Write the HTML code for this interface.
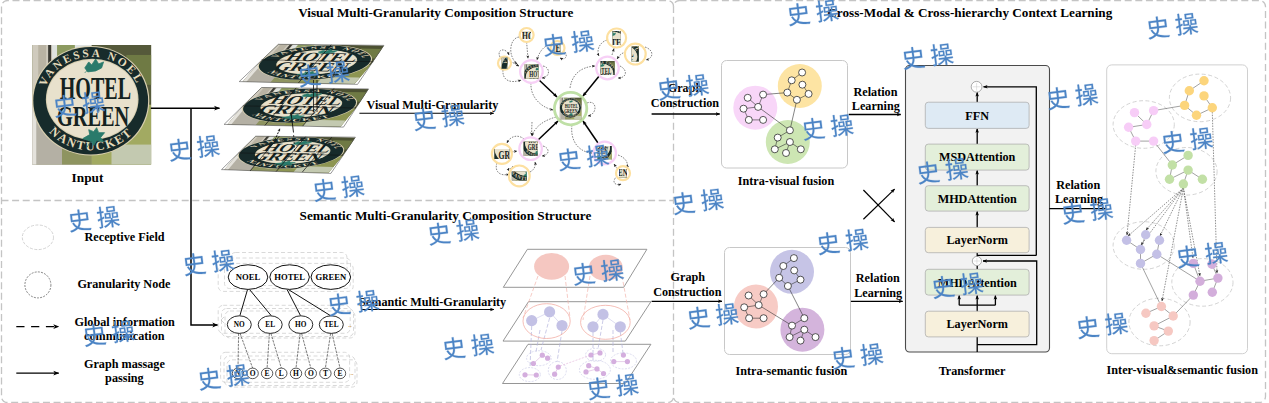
<!DOCTYPE html>
<html><head><meta charset="utf-8"><title>diagram</title>
<style>html,body{margin:0;padding:0;background:#fff;width:1269px;height:403px;overflow:hidden}svg{display:block}</style>
</head><body>
<svg width="1269" height="403" viewBox="0 0 1269 403">
<defs><g id="wm"><path d="M-304 -230H-37V-43H-304ZM40 -230H308V-43H40ZM-263 63 -330 88C-291 174 -241 239 -180 290C-242 331 -330 366 -457 393C-441 410 -421 443 -412 460C-277 428 -182 385 -115 335C18 415 197 444 429 458C434 432 449 399 464 381C238 372 69 350 -57 283C11 208 32 121 38 29H384V-302H40V-456H-37V-302H-377V29H-39C-44 106 -61 179 -122 241C-179 197 -226 139 -263 63Z"/><path transform="translate(1245,0)" d="M27 -362H258V-257H27ZM-39 -419V-200H327V-419ZM-80 -100H52V14H-80ZM230 -100H366V14H230ZM-341 -460V-258H-454V-188H-341V31C-387 47 -429 61 -463 72L-444 144L-341 105V372C-341 384 -344 387 -355 387C-364 387 -394 388 -428 387C-418 406 -409 437 -406 454C-355 454 -322 452 -300 441C-278 429 -270 410 -270 372V78L-171 40L-183 -27L-270 5V-188H-177V-258H-270V-460ZM106 70V146H-158V209H59C-10 283 -119 347 -223 379C-208 393 -186 420 -176 438C-74 401 33 332 106 250V461H177V245C240 321 333 392 418 429C430 411 451 385 467 371C379 340 283 277 222 209H451V146H177V70H429V-155H170V70H113V-155H-139V70Z"/></g>
<marker id="ah" viewBox="0 0 10 10" refX="9" refY="5" markerWidth="6" markerHeight="6" markerUnits="userSpaceOnUse" orient="auto"><path d="M0,1 L10,5 L0,9 L2.5,5 Z" fill="#000"/></marker>
<marker id="ahs" viewBox="0 0 10 10" refX="9" refY="5" markerWidth="4.5" markerHeight="4.5" markerUnits="userSpaceOnUse" orient="auto"><path d="M0,1 L10,5 L0,9 L2.5,5 Z" fill="#000"/></marker>
<marker id="aht" viewBox="0 0 10 10" refX="9" refY="5" markerWidth="3.5" markerHeight="3.5" markerUnits="userSpaceOnUse" orient="auto"><path d="M0,1 L10,5 L0,9 L2.5,5 Z" fill="#222"/></marker>
<g id="sign">
<rect x="0" y="0" width="120" height="120" fill="#6a6e42"/>
<rect x="0" y="0" width="60" height="60" fill="#cfcabd"/>
<rect x="6" y="0" width="8" height="120" fill="#b9b3a3"/>
<rect x="16" y="0" width="3" height="60" fill="#3b3a33"/>
<rect x="20" y="0" width="40" height="30" fill="#dfe3e0"/>
<rect x="25" y="0" width="18" height="12" fill="#8c9a60"/>
<rect x="60" y="0" width="60" height="60" fill="#55593a"/>
<rect x="95" y="10" width="25" height="30" fill="#6f7a44"/>
<rect x="0" y="60" width="60" height="60" fill="#b4b0a4"/>
<rect x="0" y="60" width="4" height="60" fill="#e4e2dc"/>
<rect x="30" y="95" width="30" height="25" fill="#8e9460"/>
<rect x="60" y="60" width="60" height="60" fill="#a2aa62"/>
<rect x="80" y="100" width="40" height="20" fill="#c3c9b0"/>
<ellipse cx="59" cy="56" rx="59.2" ry="55" fill="#d9cfb0"/>
<ellipse cx="59" cy="56" rx="58" ry="54" fill="#172b2b"/>
<ellipse cx="60.5" cy="54.5" rx="46.8" ry="40.8" fill="#d8cfb0"/>
<ellipse cx="60.5" cy="54.5" rx="45.8" ry="39.8" fill="#e8e1cc"/>
<path id="arcTopsign" d="M13.1,42.8 A49,43.5 0 0 1 106.9,42.8" fill="none"/>
<path id="arcBotsign" d="M16.3,86.6 A55.5,50.5 0 0 0 103.7,86.6" fill="none"/>
<text font-family="'Liberation Serif',serif" font-weight="bold" font-size="11.5" fill="#e6dcbc" textLength="114" lengthAdjust="spacing"><textPath href="#arcTopsign" startOffset="1">VANESSA NOEL</textPath></text>
<text font-family="'Liberation Serif',serif" font-weight="bold" font-size="12.5" fill="#e6dcbc"><textPath href="#arcBotsign" startOffset="1" textLength="93" lengthAdjust="spacing">NANTUCKET</textPath></text>
<text x="27.7" y="54.5" textLength="72" lengthAdjust="spacingAndGlyphs" font-family="'Liberation Serif',serif" font-weight="bold" font-size="32" fill="#142220">HOTEL</text>
<text x="24.9" y="81.5" textLength="73" lengthAdjust="spacingAndGlyphs" font-family="'Liberation Serif',serif" font-weight="bold" font-size="30" fill="#142220">GREEN</text>
<path d="M53,23 l4,-6 l3,3 l4,-6 l3,5 l5,-2 l-2,6 l-6,3 l-8,1z M57,24 l-4,4" fill="#2a7a6b" stroke="#2a7a6b" stroke-width="0.8"/>
<path d="M51,94 l7,-4 l-1,-5 l5,2 l3,-4 l2,5 l6,0 l-4,5 l3,4 l-7,-1 l-3,5 l-2,-4z M59,97 l-4,6" fill="#2a7a6b" stroke="#2a7a6b" stroke-width="0.8"/>
</g>
<g id="signq">
<rect x="0" y="0" width="120" height="120" fill="#6a6e42"/>
<rect x="0" y="0" width="60" height="60" fill="#cfcabd"/>
<rect x="6" y="0" width="8" height="120" fill="#b9b3a3"/>
<rect x="16" y="0" width="3" height="60" fill="#3b3a33"/>
<rect x="20" y="0" width="40" height="30" fill="#dfe3e0"/>
<rect x="25" y="0" width="18" height="12" fill="#8c9a60"/>
<rect x="60" y="0" width="60" height="60" fill="#4c5132"/>
<rect x="95" y="10" width="25" height="30" fill="#6f7a44"/>
<rect x="0" y="60" width="60" height="60" fill="#b4b0a4"/>
<rect x="0" y="60" width="4" height="60" fill="#e4e2dc"/>
<rect x="30" y="95" width="30" height="25" fill="#8e9460"/>
<rect x="60" y="60" width="60" height="60" fill="#8d9552"/>
<rect x="80" y="100" width="40" height="20" fill="#c3c9b0"/>
<ellipse cx="59" cy="56" rx="59.2" ry="55" fill="#d9cfb0"/>
<ellipse cx="59" cy="56" rx="58" ry="54" fill="#172b2b"/>
<ellipse cx="60.5" cy="54.5" rx="42" ry="38.5" fill="#d8cfb0"/>
<ellipse cx="60.5" cy="54.5" rx="41" ry="37.5" fill="#e8e1cc"/>
<path id="arcTopsignq" d="M13.1,42.8 A49,43.5 0 0 1 106.9,42.8" fill="none"/>
<path id="arcBotsignq" d="M16.3,86.6 A55.5,50.5 0 0 0 103.7,86.6" fill="none"/>
<text font-family="'Liberation Serif',serif" font-weight="bold" font-size="11.5" fill="#e6dcbc" textLength="114" lengthAdjust="spacing"><textPath href="#arcTopsignq" startOffset="1">VANESSA NOEL</textPath></text>
<text font-family="'Liberation Serif',serif" font-weight="bold" font-size="12.5" fill="#e6dcbc"><textPath href="#arcBotsignq" startOffset="1" textLength="93" lengthAdjust="spacing">NANTUCKET</textPath></text>
<text x="25" y="52" textLength="75" lengthAdjust="spacingAndGlyphs" font-family="'Liberation Serif',serif" font-weight="bold" font-size="40" fill="#142220">HOTEL</text>
<text x="21" y="82.5" textLength="77" lengthAdjust="spacingAndGlyphs" font-family="'Liberation Serif',serif" font-weight="bold" font-size="40" fill="#142220">GREEN</text>
<path d="M53,23 l4,-6 l3,3 l4,-6 l3,5 l5,-2 l-2,6 l-6,3 l-8,1z M57,24 l-4,4" fill="#2a7a6b" stroke="#2a7a6b" stroke-width="0.8"/>
<path d="M51,94 l7,-4 l-1,-5 l5,2 l3,-4 l2,5 l6,0 l-4,5 l3,4 l-7,-1 l-3,5 l-2,-4z M59,97 l-4,6" fill="#2a7a6b" stroke="#2a7a6b" stroke-width="0.8"/>
</g></defs>
<rect width="1269" height="403" fill="#fff"/>
<path d="M673.5,6.5 A6,6 0 0 0 667.5,0.5 H7.5 A6,6 0 0 0 1.5,6.5 V396.5 A6,6 0 0 0 7.5,402.5 H667.5 A6,6 0 0 0 673.5,396.5" fill="none" stroke="#c4c4c4" stroke-width="1.3" stroke-dasharray="7 3.6"/>
<path d="M1.5,200.5 H673.5" fill="none" stroke="#c4c4c4" stroke-width="1.3" stroke-dasharray="7 3.6"/>
<rect x="673.5" y="0.5" width="592" height="402" rx="6" fill="none" stroke="#c4c4c4" stroke-width="1.3" stroke-dasharray="7 3.6"/>
<text x="298.2" y="17.3" font-size="13.19" text-anchor="start" style="font-family:'Liberation Serif',serif;font-weight:bold" >Visual Multi-Granularity Composition Structure</text>
<text x="299.6" y="220.4" font-size="13.19" text-anchor="start" style="font-family:'Liberation Serif',serif;font-weight:bold" >Semantic Multi-Granularity Composition Structure</text>
<text x="1112.3" y="16.6" font-size="13.19" text-anchor="end" style="font-family:'Liberation Serif',serif;font-weight:bold" >Cross-Modal &amp; Cross-hierarchy Context Learning</text>
<g transform="translate(32.3,45) scale(0.99,0.9958)"><use href="#sign"/></g>
<text x="87.5" y="182.0" font-size="13.30" text-anchor="middle" style="font-family:'Liberation Serif',serif;font-weight:bold" >Input</text>
<line x1="150.8" y1="108.2" x2="219.5" y2="108.2" stroke="#000" stroke-width="1.4" marker-end="url(#ah)"/>
<polyline points="191,108.2 191,325 217.7,325" fill="none" stroke="#000" stroke-width="1.5" marker-end="url(#ah)"/>
<clipPath id="qc1"><polygon points="278.4,44.3 383.9,45.4 357.5,84.4 239.2,81.6"/></clipPath>
<g clip-path="url(#qc1)"><g transform="matrix(0.9325,0.0163,-0.2733,0.3179,275.20,43.87)"><use href="#signq"/></g></g>
<polygon points="278.4,44.3 383.9,45.4 357.5,84.4 239.2,81.6" fill="none" stroke="#555" stroke-width="0.6"/>
<clipPath id="qc2"><polygon points="261.6,87.5 368.5,88.9 343.5,127.1 224.1,124.4"/></clipPath>
<g clip-path="url(#qc2)"><g transform="matrix(0.9429,0.0171,-0.2604,0.3129,258.48,87.17)"><use href="#signq"/></g></g>
<polygon points="261.6,87.5 368.5,88.9 343.5,127.1 224.1,124.4" fill="none" stroke="#555" stroke-width="0.6"/>
<clipPath id="qc3"><polygon points="255.7,136.2 355.4,137.2 330.9,173.4 221.5,169.6"/></clipPath>
<g clip-path="url(#qc3)"><g transform="matrix(0.8712,0.0200,-0.2446,0.2900,253.28,135.50)"><use href="#signq"/></g></g>
<polygon points="255.7,136.2 355.4,137.2 330.9,173.4 221.5,169.6" fill="none" stroke="#555" stroke-width="0.6"/>
<line x1="331.1" y1="44.8" x2="298.4" y2="83.0" stroke="#111" stroke-width="0.7"/>
<line x1="261.5" y1="59.8" x2="373.4" y2="61.7" stroke="#111" stroke-width="0.5"/>
<line x1="296.2" y1="87.9" x2="264.9" y2="125.4" stroke="#111" stroke-width="0.7"/>
<line x1="333.9" y1="88.5" x2="302.7" y2="126.1" stroke="#111" stroke-width="0.7"/>
<line x1="242.9" y1="105.9" x2="356.0" y2="108.0" stroke="#111" stroke-width="0.5"/>
<line x1="279.4" y1="136.1" x2="250.1" y2="170.9" stroke="#111" stroke-width="0.7"/>
<line x1="305.6" y1="136.7" x2="276.2" y2="171.5" stroke="#111" stroke-width="0.7"/>
<line x1="331.7" y1="137.3" x2="302.3" y2="172.1" stroke="#111" stroke-width="0.7"/>
<line x1="238.6" y1="152.9" x2="343.2" y2="155.3" stroke="#111" stroke-width="0.5"/>
<line x1="313.5" y1="80" x2="313.5" y2="112" stroke="#111" stroke-width="0.8"/>
<line x1="317" y1="80" x2="317" y2="112" stroke="#111" stroke-width="0.8"/>
<line x1="293.5" y1="132.5" x2="291" y2="112.5" stroke="#111" stroke-width="0.9" marker-end="url(#aht)"/>
<line x1="294.7" y1="151" x2="293.6" y2="134.5" stroke="#111" stroke-width="0.8" stroke-dasharray="2 1.5"/>
<line x1="274.9" y1="140" x2="280" y2="128.5" stroke="#111" stroke-width="1" stroke-dasharray="2 1.2" marker-end="url(#aht)"/>
<text x="366.6" y="109.2" font-size="12.18" text-anchor="start" style="font-family:'Liberation Serif',serif;font-weight:bold" >Visual Multi-Granularity</text>
<line x1="359.4" y1="113.3" x2="493.7" y2="113.3" stroke="#000" stroke-width="1.1" marker-end="url(#ahs)"/>
<path d="M519,37 C510,38 507,55 517,64" fill="none" stroke="#333" stroke-width="0.6" stroke-dasharray="1.6 1.2" marker-end="url(#aht)"/>
<path d="M526.6,42 L528,58.5" fill="none" stroke="#333" stroke-width="0.6" stroke-dasharray="1.6 1.2" marker-end="url(#aht)"/>
<path d="M500,57 C496,49 506,47 509,55" fill="none" stroke="#333" stroke-width="0.6" stroke-dasharray="1.6 1.2" marker-end="url(#aht)"/>
<path d="M510,62 C513,62 515,64 519,66" fill="none" stroke="#333" stroke-width="0.6" stroke-dasharray="1.6 1.2" marker-end="url(#aht)"/>
<path d="M503,70 C502,80 510,84 521,80" fill="none" stroke="#333" stroke-width="0.6" stroke-dasharray="1.6 1.2" marker-end="url(#aht)"/>
<path d="M543,66 C550,67 551,77 542,78" fill="none" stroke="#333" stroke-width="0.6" stroke-dasharray="1.6 1.2" marker-end="url(#aht)"/>
<path d="M551,45 C544,45 539,52 537,60" fill="none" stroke="#333" stroke-width="0.6" stroke-dasharray="1.6 1.2" marker-end="url(#aht)"/>
<path d="M563,50 C569,55 566,61 560,58" fill="none" stroke="#333" stroke-width="0.6" stroke-dasharray="1.6 1.2" marker-end="url(#aht)"/>
<path d="M531,83 C530,96 540,107 553,110" fill="none" stroke="#333" stroke-width="0.6" stroke-dasharray="1.6 1.2" marker-end="url(#aht)"/>
<path d="M607,40 C600,42 596,50 599,56" fill="none" stroke="#333" stroke-width="0.6" stroke-dasharray="1.6 1.2" marker-end="url(#aht)"/>
<path d="M612,55 L614,48.5" fill="none" stroke="#333" stroke-width="0.6" stroke-dasharray="1.6 1.2" marker-end="url(#aht)"/>
<path d="M626,52 C621,53 619,56 617,59" fill="none" stroke="#333" stroke-width="0.6" stroke-dasharray="1.6 1.2" marker-end="url(#aht)"/>
<path d="M645,47 C654,50 654,58 646,60" fill="none" stroke="#333" stroke-width="0.6" stroke-dasharray="1.6 1.2" marker-end="url(#aht)"/>
<path d="M620,66 C628,70 627,78 618,78" fill="none" stroke="#333" stroke-width="0.6" stroke-dasharray="1.6 1.2" marker-end="url(#aht)"/>
<path d="M570,88 C572,75 580,67 595,66" fill="none" stroke="#333" stroke-width="0.6" stroke-dasharray="1.6 1.2" marker-end="url(#aht)"/>
<path d="M587,103 C597,99 598,114 588,116" fill="none" stroke="#333" stroke-width="0.6" stroke-dasharray="1.6 1.2" marker-end="url(#aht)"/>
<path d="M556,117 C545,120 535,126 532,136" fill="none" stroke="#333" stroke-width="0.6" stroke-dasharray="1.6 1.2" marker-end="url(#aht)"/>
<path d="M532,122 L531.5,135.5" fill="none" stroke="#333" stroke-width="0.6" stroke-dasharray="1.6 1.2" marker-end="url(#aht)"/>
<path d="M524,139 C518,134 510,136 507,143" fill="none" stroke="#333" stroke-width="0.6" stroke-dasharray="1.6 1.2" marker-end="url(#aht)"/>
<path d="M512,152 L517,151" fill="none" stroke="#333" stroke-width="0.6" stroke-dasharray="1.6 1.2" marker-end="url(#aht)"/>
<path d="M543,146 C550,148 550,155 542,156" fill="none" stroke="#333" stroke-width="0.6" stroke-dasharray="1.6 1.2" marker-end="url(#aht)"/>
<path d="M497,163 C494,171 500,177 509,174" fill="none" stroke="#333" stroke-width="0.6" stroke-dasharray="1.6 1.2" marker-end="url(#aht)"/>
<path d="M530,172 C534,170 536,166 535,162" fill="none" stroke="#333" stroke-width="0.6" stroke-dasharray="1.6 1.2" marker-end="url(#aht)"/>
<path d="M513,166 C510,170 508,170 509,168" fill="none" stroke="#333" stroke-width="0.6" stroke-dasharray="1.6 1.2" marker-end="url(#aht)"/>
<path d="M572,125 C570,140 578,152 592,153" fill="none" stroke="#333" stroke-width="0.6" stroke-dasharray="1.6 1.2" marker-end="url(#aht)"/>
<path d="M618,155 C627,158 629,165 626,167" fill="none" stroke="#333" stroke-width="0.6" stroke-dasharray="1.6 1.2" marker-end="url(#aht)"/>
<path d="M618,170 L614,164" fill="none" stroke="#333" stroke-width="0.6" stroke-dasharray="1.6 1.2" marker-end="url(#aht)"/>
<path d="M617,176 C611,182 615,186 621,184" fill="none" stroke="#333" stroke-width="0.6" stroke-dasharray="1.6 1.2" marker-end="url(#aht)"/>
<line x1="538" y1="79" x2="557" y2="97" stroke="#000" stroke-width="1.5" marker-end="url(#ahs)"/>
<line x1="600" y1="75" x2="583" y2="96" stroke="#000" stroke-width="1.5" marker-end="url(#ahs)"/>
<line x1="537" y1="141" x2="558" y2="121" stroke="#000" stroke-width="1.5" marker-end="url(#ahs)"/>
<line x1="598" y1="143" x2="583" y2="121" stroke="#000" stroke-width="1.5" marker-end="url(#ahs)"/>
<circle cx="570.6" cy="108.6" r="16.2" fill="#fff" stroke="#bfe0a6" stroke-width="2.8"/>
<clipPath id="th1"><rect x="559.6" y="97.6" width="22.0" height="22.0"/></clipPath>
<g clip-path="url(#th1)"><g transform="translate(559.60,97.60) scale(0.1833,0.1833)"><use href="#sign"/></g></g>
<circle cx="531.4" cy="71.5" r="11.3" fill="#fff" stroke="#f7d0f6" stroke-width="2.2"/>
<clipPath id="th2"><rect x="524.4" y="64.5" width="14.0" height="14.0"/></clipPath>
<g clip-path="url(#th2)"><g transform="translate(522.40,63.50) scale(0.2500,0.2500)"><use href="#sign"/></g></g>
<circle cx="607.5" cy="68.0" r="11.3" fill="#fff" stroke="#f7d0f6" stroke-width="2.2"/>
<clipPath id="th3"><rect x="600.5" y="61.0" width="14.0" height="14.0"/></clipPath>
<g clip-path="url(#th3)"><g transform="translate(586.50,60.00) scale(0.2500,0.2500)"><use href="#sign"/></g></g>
<circle cx="530.6" cy="148.7" r="11.3" fill="#fff" stroke="#f7d0f6" stroke-width="2.2"/>
<clipPath id="th4"><rect x="523.6" y="141.7" width="14.0" height="14.0"/></clipPath>
<g clip-path="url(#th4)"><g transform="translate(521.60,129.70) scale(0.2500,0.2500)"><use href="#sign"/></g></g>
<circle cx="604.7" cy="152.9" r="11.3" fill="#fff" stroke="#f7d0f6" stroke-width="2.2"/>
<clipPath id="th5"><rect x="597.7" y="145.9" width="14.0" height="14.0"/></clipPath>
<g clip-path="url(#th5)"><g transform="translate(583.20,133.90) scale(0.2500,0.2500)"><use href="#sign"/></g></g>
<circle cx="557.5" cy="48.0" r="7.0" fill="#fff" stroke="#fde0a0" stroke-width="2.2"/>
<clipPath id="th6"><rect x="554.5" y="43.0" width="6.0" height="10.0"/></clipPath>
<g clip-path="url(#th6)"><g transform="translate(528.25,31.46) scale(0.3750,0.3846)"><use href="#sign"/></g></g>
<circle cx="526.6" cy="35.0" r="7.0" fill="#fff" stroke="#fde0a0" stroke-width="2.2"/>
<clipPath id="th7"><rect x="522.1" y="31.0" width="9.0" height="8.0"/></clipPath>
<g clip-path="url(#th7)"><g transform="translate(511.60,20.09) scale(0.3750,0.3636)"><use href="#sign"/></g></g>
<circle cx="504.5" cy="63.2" r="6.5" fill="#fff" stroke="#fde0a0" stroke-width="2.2"/>
<clipPath id="th8"><rect x="501.5" y="57.7" width="6.0" height="11.0"/></clipPath>
<g clip-path="url(#th8)"><g transform="translate(500.64,47.88) scale(0.4286,0.3929)"><use href="#sign"/></g></g>
<circle cx="616.6" cy="38.0" r="9.5" fill="#fff" stroke="#fde0a0" stroke-width="2.2"/>
<clipPath id="th9"><rect x="612.6" y="31.0" width="8.0" height="14.0"/></clipPath>
<g clip-path="url(#th9)"><g transform="translate(587.00,26.80) scale(0.4000,0.3500)"><use href="#sign"/></g></g>
<circle cx="635.3" cy="54.1" r="10.4" fill="#fff" stroke="#fde0a0" stroke-width="2.2"/>
<clipPath id="th10"><rect x="631.8" y="46.6" width="7.0" height="15.0"/></clipPath>
<g clip-path="url(#th10)"><g transform="translate(583.80,37.31) scale(0.5000,0.3571)"><use href="#sign"/></g></g>
<circle cx="501.9" cy="153.9" r="10.0" fill="#fff" stroke="#fde0a0" stroke-width="2.2"/>
<clipPath id="th11"><rect x="494.4" y="148.9" width="15.0" height="10.0"/></clipPath>
<g clip-path="url(#th11)"><g transform="translate(489.15,124.73) scale(0.3750,0.4167)"><use href="#sign"/></g></g>
<circle cx="519.3" cy="175.9" r="10.4" fill="#fff" stroke="#fde0a0" stroke-width="2.2"/>
<clipPath id="th12"><rect x="511.8" y="171.4" width="15.0" height="9.0"/></clipPath>
<g clip-path="url(#th12)"><g transform="translate(504.30,137.04) scale(0.3750,0.4091)"><use href="#sign"/></g></g>
<circle cx="623.0" cy="173.2" r="7.0" fill="#fff" stroke="#fde0a0" stroke-width="2.2"/>
<clipPath id="th13"><rect x="619.0" y="169.2" width="8.0" height="8.0"/></clipPath>
<g clip-path="url(#th13)"><g transform="translate(595.00,149.20) scale(0.3333,0.3333)"><use href="#sign"/></g></g>
<text x="685.0" y="92.4" font-size="12.18" text-anchor="middle" style="font-family:'Liberation Serif',serif;font-weight:bold" >Graph</text>
<text x="685.0" y="107.3" font-size="12.18" text-anchor="middle" style="font-family:'Liberation Serif',serif;font-weight:bold" >Construction</text>
<line x1="651.6" y1="114" x2="719.7" y2="114" stroke="#000" stroke-width="1.3" marker-end="url(#ahs)"/>
<rect x="721.5" y="60.5" width="126" height="107.5" rx="5" fill="#fff" stroke="#c8c8c8" stroke-width="1"/>
<circle cx="755.3" cy="107.7" r="22.0" fill="#f8d6f8"/>
<circle cx="799.8" cy="86.0" r="22.0" fill="#fde4a3"/>
<circle cx="787.8" cy="142.0" r="22.0" fill="#cde6b3"/>
<line x1="747.7" y1="97.8" x2="758.1" y2="106.9" stroke="#333" stroke-width="0.6"/>
<line x1="763.1" y1="94.6" x2="758.1" y2="106.9" stroke="#333" stroke-width="0.6"/>
<line x1="758.1" y1="106.9" x2="743.5" y2="108.7" stroke="#333" stroke-width="0.6"/>
<line x1="743.5" y1="108.7" x2="748.8" y2="119.9" stroke="#333" stroke-width="0.6"/>
<line x1="748.8" y1="119.9" x2="763.1" y2="119.9" stroke="#333" stroke-width="0.6"/>
<line x1="802.1" y1="72.5" x2="791.7" y2="80.3" stroke="#333" stroke-width="0.6"/>
<line x1="791.7" y1="80.3" x2="787.3" y2="92.6" stroke="#333" stroke-width="0.6"/>
<line x1="802.4" y1="84.7" x2="808.6" y2="93.9" stroke="#333" stroke-width="0.6"/>
<line x1="808.6" y1="93.9" x2="796.9" y2="99.8" stroke="#333" stroke-width="0.6"/>
<line x1="787.3" y1="92.6" x2="796.9" y2="99.8" stroke="#333" stroke-width="0.6"/>
<line x1="789.9" y1="130.3" x2="777.7" y2="137.6" stroke="#333" stroke-width="0.6"/>
<line x1="777.7" y1="137.6" x2="774.8" y2="149.3" stroke="#333" stroke-width="0.6"/>
<line x1="789.9" y1="142.0" x2="774.8" y2="149.3" stroke="#333" stroke-width="0.6"/>
<line x1="789.9" y1="142.0" x2="786.0" y2="153.0" stroke="#333" stroke-width="0.6"/>
<line x1="789.9" y1="142.0" x2="800.8" y2="149.3" stroke="#333" stroke-width="0.6"/>
<line x1="763.1" y1="94.6" x2="787.3" y2="92.6" stroke="#333" stroke-width="0.6"/>
<line x1="758.1" y1="106.9" x2="789.9" y2="130.3" stroke="#333" stroke-width="0.6"/>
<line x1="796.9" y1="99.8" x2="789.9" y2="130.3" stroke="#333" stroke-width="0.6"/>
<circle cx="747.7" cy="97.8" r="3.5" fill="#fff" stroke="#222" stroke-width="0.75"/>
<circle cx="763.1" cy="94.6" r="3.5" fill="#fff" stroke="#222" stroke-width="0.75"/>
<circle cx="758.1" cy="106.9" r="3.5" fill="#fff" stroke="#222" stroke-width="0.75"/>
<circle cx="743.5" cy="108.7" r="3.5" fill="#fff" stroke="#222" stroke-width="0.75"/>
<circle cx="748.8" cy="119.9" r="3.5" fill="#fff" stroke="#222" stroke-width="0.75"/>
<circle cx="763.1" cy="119.9" r="3.5" fill="#fff" stroke="#222" stroke-width="0.75"/>
<circle cx="802.1" cy="72.5" r="3.5" fill="#fff" stroke="#222" stroke-width="0.75"/>
<circle cx="791.7" cy="80.3" r="3.5" fill="#fff" stroke="#222" stroke-width="0.75"/>
<circle cx="802.4" cy="84.7" r="3.5" fill="#fff" stroke="#222" stroke-width="0.75"/>
<circle cx="787.3" cy="92.6" r="3.5" fill="#fff" stroke="#222" stroke-width="0.75"/>
<circle cx="808.6" cy="93.9" r="3.5" fill="#fff" stroke="#222" stroke-width="0.75"/>
<circle cx="796.9" cy="99.8" r="3.5" fill="#fff" stroke="#222" stroke-width="0.75"/>
<circle cx="789.9" cy="130.3" r="3.5" fill="#fff" stroke="#222" stroke-width="0.75"/>
<circle cx="777.7" cy="137.6" r="3.5" fill="#fff" stroke="#222" stroke-width="0.75"/>
<circle cx="789.9" cy="142.0" r="3.5" fill="#fff" stroke="#222" stroke-width="0.75"/>
<circle cx="774.8" cy="149.3" r="3.5" fill="#fff" stroke="#222" stroke-width="0.75"/>
<circle cx="786.0" cy="153.0" r="3.5" fill="#fff" stroke="#222" stroke-width="0.75"/>
<circle cx="800.8" cy="149.3" r="3.5" fill="#fff" stroke="#222" stroke-width="0.75"/>
<text x="786.0" y="185.3" font-size="12.18" text-anchor="middle" style="font-family:'Liberation Serif',serif;font-weight:bold" >Intra-visual fusion</text>
<text x="875.5" y="95.5" font-size="12.18" text-anchor="middle" style="font-family:'Liberation Serif',serif;font-weight:bold" >Relation</text>
<text x="875.8" y="109.7" font-size="12.18" text-anchor="middle" style="font-family:'Liberation Serif',serif;font-weight:bold" >Learning</text>
<line x1="848.7" y1="114.5" x2="900.8" y2="114.5" stroke="#000" stroke-width="1.3" marker-end="url(#ahs)"/>
<line x1="863.4" y1="219.2" x2="894.6" y2="189.1" stroke="#000" stroke-width="1.2" marker-end="url(#ahs)"/>
<line x1="863.4" y1="190" x2="894.6" y2="221.9" stroke="#000" stroke-width="1.2" marker-end="url(#ahs)"/>
<text x="687.8" y="281.3" font-size="12.18" text-anchor="middle" style="font-family:'Liberation Serif',serif;font-weight:bold" >Graph</text>
<text x="687.3" y="296.0" font-size="12.18" text-anchor="middle" style="font-family:'Liberation Serif',serif;font-weight:bold" >Construction</text>
<line x1="651.6" y1="301.3" x2="722" y2="301.3" stroke="#000" stroke-width="1.3" marker-end="url(#ahs)"/>
<rect x="724.5" y="247.5" width="126" height="107" rx="5" fill="#fff" stroke="#c8c8c8" stroke-width="1"/>
<circle cx="792.0" cy="271.8" r="22.0" fill="#c6c4e6"/>
<circle cx="756.0" cy="306.5" r="22.0" fill="#f7cbc5"/>
<circle cx="802.4" cy="329.7" r="22.0" fill="#d4b4dc"/>
<line x1="748.6" y1="295.5" x2="758.7" y2="305.1" stroke="#333" stroke-width="0.6"/>
<line x1="763.6" y1="294.2" x2="758.7" y2="305.1" stroke="#333" stroke-width="0.6"/>
<line x1="758.7" y1="305.1" x2="744.2" y2="307.3" stroke="#333" stroke-width="0.6"/>
<line x1="744.2" y1="307.3" x2="749.1" y2="318.2" stroke="#333" stroke-width="0.6"/>
<line x1="749.1" y1="318.2" x2="763.6" y2="318.2" stroke="#333" stroke-width="0.6"/>
<line x1="783.3" y1="266.0" x2="779.2" y2="277.8" stroke="#333" stroke-width="0.6"/>
<line x1="779.2" y1="277.8" x2="787.9" y2="286.0" stroke="#333" stroke-width="0.6"/>
<line x1="794.2" y1="270.4" x2="800.5" y2="279.7" stroke="#333" stroke-width="0.6"/>
<line x1="800.5" y1="279.7" x2="787.9" y2="286.0" stroke="#333" stroke-width="0.6"/>
<line x1="793.9" y1="258.1" x2="783.3" y2="266.0" stroke="#333" stroke-width="0.6"/>
<line x1="804.3" y1="318.2" x2="792.0" y2="325.6" stroke="#333" stroke-width="0.6"/>
<line x1="792.0" y1="325.6" x2="789.6" y2="337.1" stroke="#333" stroke-width="0.6"/>
<line x1="804.3" y1="329.7" x2="789.6" y2="337.1" stroke="#333" stroke-width="0.6"/>
<line x1="804.3" y1="329.7" x2="800.5" y2="340.6" stroke="#333" stroke-width="0.6"/>
<line x1="804.3" y1="329.7" x2="815.5" y2="337.1" stroke="#333" stroke-width="0.6"/>
<line x1="763.6" y1="294.2" x2="779.2" y2="277.8" stroke="#333" stroke-width="0.6"/>
<line x1="758.7" y1="305.1" x2="792.0" y2="325.6" stroke="#333" stroke-width="0.6"/>
<line x1="787.9" y1="286.0" x2="804.3" y2="318.2" stroke="#333" stroke-width="0.6"/>
<circle cx="793.9" cy="258.1" r="3.5" fill="#fff" stroke="#222" stroke-width="0.75"/>
<circle cx="783.3" cy="266.0" r="3.5" fill="#fff" stroke="#222" stroke-width="0.75"/>
<circle cx="794.2" cy="270.4" r="3.5" fill="#fff" stroke="#222" stroke-width="0.75"/>
<circle cx="779.2" cy="277.8" r="3.5" fill="#fff" stroke="#222" stroke-width="0.75"/>
<circle cx="800.5" cy="279.7" r="3.5" fill="#fff" stroke="#222" stroke-width="0.75"/>
<circle cx="787.9" cy="286.0" r="3.5" fill="#fff" stroke="#222" stroke-width="0.75"/>
<circle cx="748.6" cy="295.5" r="3.5" fill="#fff" stroke="#222" stroke-width="0.75"/>
<circle cx="763.6" cy="294.2" r="3.5" fill="#fff" stroke="#222" stroke-width="0.75"/>
<circle cx="758.7" cy="305.1" r="3.5" fill="#fff" stroke="#222" stroke-width="0.75"/>
<circle cx="744.2" cy="307.3" r="3.5" fill="#fff" stroke="#222" stroke-width="0.75"/>
<circle cx="749.1" cy="318.2" r="3.5" fill="#fff" stroke="#222" stroke-width="0.75"/>
<circle cx="763.6" cy="318.2" r="3.5" fill="#fff" stroke="#222" stroke-width="0.75"/>
<circle cx="804.3" cy="318.2" r="3.5" fill="#fff" stroke="#222" stroke-width="0.75"/>
<circle cx="792.0" cy="325.6" r="3.5" fill="#fff" stroke="#222" stroke-width="0.75"/>
<circle cx="804.3" cy="329.7" r="3.5" fill="#fff" stroke="#222" stroke-width="0.75"/>
<circle cx="789.6" cy="337.1" r="3.5" fill="#fff" stroke="#222" stroke-width="0.75"/>
<circle cx="800.5" cy="340.6" r="3.5" fill="#fff" stroke="#222" stroke-width="0.75"/>
<circle cx="815.5" cy="337.1" r="3.5" fill="#fff" stroke="#222" stroke-width="0.75"/>
<text x="791.4" y="374.8" font-size="12.18" text-anchor="middle" style="font-family:'Liberation Serif',serif;font-weight:bold" >Intra-semantic fusion</text>
<text x="877.8" y="282.1" font-size="12.18" text-anchor="middle" style="font-family:'Liberation Serif',serif;font-weight:bold" >Relation</text>
<text x="878.2" y="296.6" font-size="12.18" text-anchor="middle" style="font-family:'Liberation Serif',serif;font-weight:bold" >Learning</text>
<line x1="850.9" y1="301.3" x2="902.7" y2="301.3" stroke="#000" stroke-width="1.3" marker-end="url(#ahs)"/>
<rect x="905.5" y="65.5" width="144" height="286.5" rx="4" fill="#f2f2f2" stroke="#4a4a4a" stroke-width="1.1"/>
<polyline points="1036.3,255.4 1036.3,86.8 983.5,86.8" stroke="#000" stroke-width="1.3" fill="none" marker-end="url(#ahs)"/>
<line x1="977.2" y1="255.4" x2="1036.3" y2="255.4" stroke="#000" stroke-width="1.3" fill="none"/>
<polyline points="977.2,344.7 1036.7,344.7 1036.7,261 983,261" stroke="#000" stroke-width="1.3" fill="none" marker-end="url(#ahs)"/>
<line x1="977.2" y1="352" x2="977.2" y2="311.5" stroke="#000" stroke-width="1.3" fill="none" marker-end="url(#ahs)"/>
<line x1="977.2" y1="311" x2="977.2" y2="305.2" stroke="#000" stroke-width="1.3" fill="none"/>
<line x1="959.2" y1="305.2" x2="995.4" y2="305.2" stroke="#000" stroke-width="1.3" fill="none"/>
<line x1="959.2" y1="305.2" x2="959.2" y2="295.5" stroke="#000" stroke-width="1.3" fill="none" marker-end="url(#ahs)"/>
<line x1="977.2" y1="305.2" x2="977.2" y2="295.5" stroke="#000" stroke-width="1.3" fill="none" marker-end="url(#ahs)"/>
<line x1="995.4" y1="305.2" x2="995.4" y2="295.5" stroke="#000" stroke-width="1.3" fill="none" marker-end="url(#ahs)"/>
<line x1="977.2" y1="266" x2="977.2" y2="269" stroke="#000" stroke-width="1.3" fill="none"/>
<line x1="977.2" y1="252.7" x2="977.2" y2="256.5" stroke="#000" stroke-width="1.3" fill="none"/>
<line x1="977.2" y1="227.4" x2="977.2" y2="211.5" stroke="#000" stroke-width="1.3" fill="none" marker-end="url(#ahs)"/>
<line x1="977.2" y1="185.7" x2="977.2" y2="170.5" stroke="#000" stroke-width="1.3" fill="none" marker-end="url(#ahs)"/>
<line x1="977.2" y1="144.1" x2="977.2" y2="128.8" stroke="#000" stroke-width="1.3" fill="none" marker-end="url(#ahs)"/>
<line x1="977.2" y1="102.2" x2="977.2" y2="92.5" stroke="#000" stroke-width="1.3" fill="none" marker-end="url(#ahs)"/>
<rect x="925.3" y="102.2" width="103.8" height="26.2" rx="3" fill="#deeaf4" stroke="#a8a8a8" stroke-width="0.7"/>
<text x="977.2" y="119.6" font-size="12.18" text-anchor="middle" style="font-family:'Liberation Serif',serif;font-weight:bold" >FFN</text>
<rect x="925.3" y="144.1" width="103.8" height="26.0" rx="3" fill="#e3efda" stroke="#a8a8a8" stroke-width="0.7"/>
<text x="977.2" y="161.4" font-size="12.18" text-anchor="middle" style="font-family:'Liberation Serif',serif;font-weight:bold" >MSDAttention</text>
<rect x="925.3" y="185.7" width="103.8" height="25.4" rx="3" fill="#e3efda" stroke="#a8a8a8" stroke-width="0.7"/>
<text x="977.2" y="202.7" font-size="12.18" text-anchor="middle" style="font-family:'Liberation Serif',serif;font-weight:bold" >MHDAttention</text>
<rect x="925.3" y="227.4" width="103.8" height="25.3" rx="3" fill="#f7f0dc" stroke="#a8a8a8" stroke-width="0.7"/>
<text x="977.2" y="244.4" font-size="12.18" text-anchor="middle" style="font-family:'Liberation Serif',serif;font-weight:bold" >LayerNorm</text>
<rect x="925.3" y="269.3" width="103.8" height="25.8" rx="3" fill="#e3efda" stroke="#a8a8a8" stroke-width="0.7"/>
<text x="977.2" y="286.5" font-size="12.18" text-anchor="middle" style="font-family:'Liberation Serif',serif;font-weight:bold" >MHDAttention</text>
<rect x="925.3" y="311.2" width="103.8" height="25.7" rx="3" fill="#f7f0dc" stroke="#a8a8a8" stroke-width="0.7"/>
<text x="977.2" y="328.3" font-size="12.18" text-anchor="middle" style="font-family:'Liberation Serif',serif;font-weight:bold" >LayerNorm</text>
<circle cx="976.6" cy="86.8" r="5.4" fill="#fff" stroke="#888" stroke-width="0.7"/>
<path d="M972.7,86.8 h7.8 M976.6,82.9 v7.8" stroke="#c8c8c8" stroke-width="0.5"/>
<circle cx="976.9" cy="261.0" r="4.6" fill="#fff" stroke="#888" stroke-width="0.7"/>
<path d="M973.8,261.0 h6.2 M976.9,257.9 v6.2" stroke="#c8c8c8" stroke-width="0.5"/>
<text x="972.0" y="374.5" font-size="12.18" text-anchor="middle" style="font-family:'Liberation Serif',serif;font-weight:bold" >Transformer</text>
<text x="1078.2" y="188.5" font-size="12.18" text-anchor="middle" style="font-family:'Liberation Serif',serif;font-weight:bold" >Relation</text>
<text x="1079.0" y="203.4" font-size="12.18" text-anchor="middle" style="font-family:'Liberation Serif',serif;font-weight:bold" >Learning</text>
<line x1="1049.3" y1="208.6" x2="1105.5" y2="208.6" stroke="#000" stroke-width="1.3" marker-end="url(#ahs)"/>
<rect x="1106.7" y="64.9" width="140.8" height="288.8" rx="5" fill="#fff" stroke="#d0d0d0" stroke-width="1"/>
<ellipse cx="1143.7" cy="124.5" rx="30.6" ry="23.8" fill="none" stroke="#c8c8c8" stroke-width="0.8" stroke-dasharray="4 2.5"/>
<ellipse cx="1200.0" cy="97.9" rx="30.6" ry="23.8" fill="none" stroke="#c8c8c8" stroke-width="0.8" stroke-dasharray="4 2.5"/>
<ellipse cx="1186.5" cy="171.3" rx="30.6" ry="23.8" fill="none" stroke="#c8c8c8" stroke-width="0.8" stroke-dasharray="4 2.5"/>
<ellipse cx="1143.7" cy="245.5" rx="30.6" ry="23.8" fill="none" stroke="#c8c8c8" stroke-width="0.8" stroke-dasharray="4 2.5"/>
<ellipse cx="1202.4" cy="282.4" rx="30.6" ry="23.8" fill="none" stroke="#c8c8c8" stroke-width="0.8" stroke-dasharray="4 2.5"/>
<ellipse cx="1159.5" cy="322.0" rx="30.6" ry="23.8" fill="none" stroke="#c8c8c8" stroke-width="0.8" stroke-dasharray="4 2.5"/>
<line x1="1183.4" y1="188.0" x2="1128.0" y2="236.0" stroke="#333" stroke-width="0.55" stroke-dasharray="1.5 1.2" marker-end="url(#aht)"/>
<line x1="1183.4" y1="188.0" x2="1146.0" y2="230.0" stroke="#333" stroke-width="0.55" stroke-dasharray="1.5 1.2" marker-end="url(#aht)"/>
<line x1="1183.4" y1="188.0" x2="1160.0" y2="236.0" stroke="#333" stroke-width="0.55" stroke-dasharray="1.5 1.2" marker-end="url(#aht)"/>
<line x1="1183.4" y1="188.0" x2="1141.0" y2="245.0" stroke="#333" stroke-width="0.55" stroke-dasharray="1.5 1.2" marker-end="url(#aht)"/>
<line x1="1183.4" y1="188.0" x2="1193.0" y2="258.0" stroke="#333" stroke-width="0.55" stroke-dasharray="1.5 1.2" marker-end="url(#aht)"/>
<line x1="1183.4" y1="188.0" x2="1200.0" y2="276.0" stroke="#333" stroke-width="0.55" stroke-dasharray="1.5 1.2" marker-end="url(#aht)"/>
<line x1="1183.4" y1="188.0" x2="1162.0" y2="301.0" stroke="#333" stroke-width="0.55" stroke-dasharray="1.5 1.2" marker-end="url(#aht)"/>
<line x1="1135.7" y1="145" x2="1127" y2="235" stroke="#333" stroke-width="0.55" stroke-dasharray="1.5 1.2" marker-end="url(#aht)"/>
<line x1="1212.3" y1="112" x2="1217" y2="273" stroke="#333" stroke-width="0.55" stroke-dasharray="1.5 1.2" marker-end="url(#aht)"/>
<line x1="1134.5" y1="112.6" x2="1146.8" y2="124.5" stroke="#444" stroke-width="0.5"/>
<line x1="1153.6" y1="110.6" x2="1146.8" y2="124.5" stroke="#444" stroke-width="0.5"/>
<line x1="1146.8" y1="124.5" x2="1128.6" y2="127.3" stroke="#444" stroke-width="0.5"/>
<line x1="1128.6" y1="127.3" x2="1135.7" y2="141.1" stroke="#444" stroke-width="0.5"/>
<line x1="1135.7" y1="141.1" x2="1153.6" y2="141.1" stroke="#444" stroke-width="0.5"/>
<line x1="1204.0" y1="80.8" x2="1189.3" y2="90.7" stroke="#444" stroke-width="0.5"/>
<line x1="1189.3" y1="90.7" x2="1184.6" y2="105.4" stroke="#444" stroke-width="0.5"/>
<line x1="1204.0" y1="95.9" x2="1212.3" y2="107.8" stroke="#444" stroke-width="0.5"/>
<line x1="1212.3" y1="107.8" x2="1196.5" y2="115.3" stroke="#444" stroke-width="0.5"/>
<line x1="1184.6" y1="105.4" x2="1196.5" y2="115.3" stroke="#444" stroke-width="0.5"/>
<line x1="1188.1" y1="155.4" x2="1172.3" y2="165.0" stroke="#444" stroke-width="0.5"/>
<line x1="1172.3" y1="165.0" x2="1169.5" y2="179.3" stroke="#444" stroke-width="0.5"/>
<line x1="1188.1" y1="170.1" x2="1169.5" y2="179.3" stroke="#444" stroke-width="0.5"/>
<line x1="1188.1" y1="170.1" x2="1183.4" y2="184.0" stroke="#444" stroke-width="0.5"/>
<line x1="1188.1" y1="170.1" x2="1202.4" y2="179.3" stroke="#444" stroke-width="0.5"/>
<line x1="1145.7" y1="234.8" x2="1140.5" y2="249.5" stroke="#444" stroke-width="0.5"/>
<line x1="1140.5" y1="249.5" x2="1140.5" y2="263.4" stroke="#444" stroke-width="0.5"/>
<line x1="1159.5" y1="240.3" x2="1156.8" y2="254.2" stroke="#444" stroke-width="0.5"/>
<line x1="1126.6" y1="240.3" x2="1140.5" y2="249.5" stroke="#444" stroke-width="0.5"/>
<line x1="1156.8" y1="254.2" x2="1140.5" y2="263.4" stroke="#444" stroke-width="0.5"/>
<line x1="1193.3" y1="263.4" x2="1200.0" y2="281.2" stroke="#444" stroke-width="0.5"/>
<line x1="1200.0" y1="281.2" x2="1193.3" y2="295.1" stroke="#444" stroke-width="0.5"/>
<line x1="1212.0" y1="264.2" x2="1217.9" y2="278.1" stroke="#444" stroke-width="0.5"/>
<line x1="1217.9" y1="278.1" x2="1212.3" y2="292.3" stroke="#444" stroke-width="0.5"/>
<line x1="1200.0" y1="281.2" x2="1217.9" y2="278.1" stroke="#444" stroke-width="0.5"/>
<line x1="1161.4" y1="306.5" x2="1145.9" y2="313.3" stroke="#444" stroke-width="0.5"/>
<line x1="1161.4" y1="306.5" x2="1173.2" y2="316.0" stroke="#444" stroke-width="0.5"/>
<line x1="1173.2" y1="316.0" x2="1154.1" y2="325.9" stroke="#444" stroke-width="0.5"/>
<line x1="1154.1" y1="325.9" x2="1168.3" y2="331.1" stroke="#444" stroke-width="0.5"/>
<line x1="1168.3" y1="331.1" x2="1154.1" y2="340.6" stroke="#444" stroke-width="0.5"/>
<line x1="1153.6" y1="110.6" x2="1184.6" y2="105.4" stroke="#444" stroke-width="0.5"/>
<line x1="1153.6" y1="141.1" x2="1172.3" y2="165.0" stroke="#444" stroke-width="0.5"/>
<line x1="1140.5" y1="263.4" x2="1161.4" y2="306.5" stroke="#444" stroke-width="0.5"/>
<line x1="1156.8" y1="254.2" x2="1200.0" y2="281.2" stroke="#444" stroke-width="0.5"/>
<line x1="1193.3" y1="295.1" x2="1173.2" y2="316.0" stroke="#444" stroke-width="0.5"/>
<circle cx="1134.5" cy="112.6" r="4.7" fill="#f7cdf7"/>
<circle cx="1153.6" cy="110.6" r="4.7" fill="#f7cdf7"/>
<circle cx="1146.8" cy="124.5" r="4.7" fill="#f7cdf7"/>
<circle cx="1128.6" cy="127.3" r="4.7" fill="#f7cdf7"/>
<circle cx="1135.7" cy="141.1" r="4.7" fill="#f7cdf7"/>
<circle cx="1153.6" cy="141.1" r="4.7" fill="#f7cdf7"/>
<circle cx="1204.0" cy="80.8" r="4.7" fill="#fcd57c"/>
<circle cx="1189.3" cy="90.7" r="4.7" fill="#fcd57c"/>
<circle cx="1204.0" cy="95.9" r="4.7" fill="#fcd57c"/>
<circle cx="1184.6" cy="105.4" r="4.7" fill="#fcd57c"/>
<circle cx="1212.3" cy="107.8" r="4.7" fill="#fcd57c"/>
<circle cx="1196.5" cy="115.3" r="4.7" fill="#fcd57c"/>
<circle cx="1188.1" cy="155.4" r="4.7" fill="#c2e0a6"/>
<circle cx="1172.3" cy="165.0" r="4.7" fill="#c2e0a6"/>
<circle cx="1188.1" cy="170.1" r="4.7" fill="#c2e0a6"/>
<circle cx="1169.5" cy="179.3" r="4.7" fill="#c2e0a6"/>
<circle cx="1183.4" cy="184.0" r="4.7" fill="#c2e0a6"/>
<circle cx="1202.4" cy="179.3" r="4.7" fill="#c2e0a6"/>
<circle cx="1126.6" cy="240.3" r="4.7" fill="#c3c0e6"/>
<circle cx="1145.7" cy="234.8" r="4.7" fill="#c3c0e6"/>
<circle cx="1159.5" cy="240.3" r="4.7" fill="#c3c0e6"/>
<circle cx="1140.5" cy="249.5" r="4.7" fill="#c3c0e6"/>
<circle cx="1156.8" cy="254.2" r="4.7" fill="#c3c0e6"/>
<circle cx="1140.5" cy="263.4" r="4.7" fill="#c3c0e6"/>
<circle cx="1193.3" cy="263.4" r="4.7" fill="#d3aedb"/>
<circle cx="1212.0" cy="264.2" r="4.7" fill="#d3aedb"/>
<circle cx="1200.0" cy="281.2" r="4.7" fill="#d3aedb"/>
<circle cx="1217.9" cy="278.1" r="4.7" fill="#d3aedb"/>
<circle cx="1193.3" cy="295.1" r="4.7" fill="#d3aedb"/>
<circle cx="1212.3" cy="292.3" r="4.7" fill="#d3aedb"/>
<circle cx="1161.4" cy="306.5" r="4.7" fill="#f6c8c2"/>
<circle cx="1145.9" cy="313.3" r="4.7" fill="#f6c8c2"/>
<circle cx="1173.2" cy="316.0" r="4.7" fill="#f6c8c2"/>
<circle cx="1154.1" cy="325.9" r="4.7" fill="#f6c8c2"/>
<circle cx="1168.3" cy="331.1" r="4.7" fill="#f6c8c2"/>
<circle cx="1154.1" cy="340.6" r="4.7" fill="#f6c8c2"/>
<text x="1182.3" y="374.2" font-size="12.18" text-anchor="middle" style="font-family:'Liberation Serif',serif;font-weight:bold" >Inter-visual&amp;semantic fusion</text>
<ellipse cx="37.9" cy="237.3" rx="15.6" ry="12.3" fill="none" stroke="#c8c8c8" stroke-width="0.8" stroke-dasharray="3 1.5"/>
<text x="124.6" y="240.7" font-size="12.18" text-anchor="middle" style="font-family:'Liberation Serif',serif;font-weight:bold" >Receptive Field</text>
<circle cx="37.9" cy="284.9" r="13" fill="none" stroke="#555" stroke-width="0.7" stroke-dasharray="2 1.2"/>
<text x="123.9" y="288.2" font-size="12.18" text-anchor="middle" style="font-family:'Liberation Serif',serif;font-weight:bold" >Granularity Node</text>
<line x1="16.3" y1="326.7" x2="58.7" y2="326.7" stroke="#000" stroke-width="1.2" stroke-dasharray="8.2 6.6" marker-end="url(#ah)"/>
<text x="124.7" y="325.5" font-size="12.18" text-anchor="middle" style="font-family:'Liberation Serif',serif;font-weight:bold" >Global information</text>
<text x="124.3" y="339.6" font-size="12.18" text-anchor="middle" style="font-family:'Liberation Serif',serif;font-weight:bold" >communication</text>
<line x1="16.3" y1="373.1" x2="58.7" y2="373.1" stroke="#000" stroke-width="1.1" marker-end="url(#ah)"/>
<text x="124.4" y="367.5" font-size="12.18" text-anchor="middle" style="font-family:'Liberation Serif',serif;font-weight:bold" >Graph massage</text>
<text x="124.4" y="382.0" font-size="12.18" text-anchor="middle" style="font-family:'Liberation Serif',serif;font-weight:bold" >passing</text>
<rect x="230.5" y="252.5" width="116.5" height="33" rx="5" fill="none" stroke="#cfcfcf" stroke-width="0.8" stroke-dasharray="4 2.5"/>
<rect x="224.5" y="258" width="126" height="30.5" rx="5" fill="none" stroke="#cfcfcf" stroke-width="0.8" stroke-dasharray="4 2.5"/>
<rect x="218.2" y="263.4" width="135" height="28" rx="5" fill="none" stroke="#cfcfcf" stroke-width="0.8" stroke-dasharray="4 2.5"/>
<rect x="218.2" y="305.3" width="132" height="28" rx="5" fill="none" stroke="#cfcfcf" stroke-width="0.8" stroke-dasharray="4 2.5"/>
<rect x="221.5" y="308.5" width="132" height="28" rx="5" fill="none" stroke="#cfcfcf" stroke-width="0.8" stroke-dasharray="4 2.5"/>
<rect x="225" y="311" width="130" height="27" rx="5" fill="none" stroke="#cfcfcf" stroke-width="0.8" stroke-dasharray="4 2.5"/>
<rect x="220.6" y="352.3" width="129" height="30" rx="5" fill="none" stroke="#cfcfcf" stroke-width="0.8" stroke-dasharray="4 2.5"/>
<rect x="224" y="356" width="131" height="29.5" rx="5" fill="none" stroke="#cfcfcf" stroke-width="0.8" stroke-dasharray="4 2.5"/>
<rect x="227" y="359.8" width="130" height="27.3" rx="5" fill="none" stroke="#cfcfcf" stroke-width="0.8" stroke-dasharray="4 2.5"/>
<line x1="247.5" y1="289.6" x2="239.9" y2="315.6" stroke="#111" stroke-width="1"/>
<line x1="249.6" y1="289.6" x2="271.2" y2="315.6" stroke="#111" stroke-width="1"/>
<line x1="287.1" y1="289.6" x2="300.5" y2="315.6" stroke="#111" stroke-width="1"/>
<line x1="288.5" y1="289.6" x2="330.4" y2="315.6" stroke="#111" stroke-width="1"/>
<line x1="238.6" y1="333.4" x2="238.0" y2="368" stroke="#222" stroke-width="0.6" stroke-dasharray="2.5 1"/>
<line x1="240.1" y1="333.4" x2="252.6" y2="368" stroke="#222" stroke-width="0.6" stroke-dasharray="2.5 1"/>
<line x1="269.4" y1="333.4" x2="267.1" y2="368" stroke="#222" stroke-width="0.6" stroke-dasharray="2.5 1"/>
<line x1="270.9" y1="333.4" x2="281.3" y2="368" stroke="#222" stroke-width="0.6" stroke-dasharray="2.5 1"/>
<line x1="300.1" y1="333.4" x2="296.0" y2="368" stroke="#222" stroke-width="0.6" stroke-dasharray="2.5 1"/>
<line x1="301.6" y1="333.4" x2="310.8" y2="368" stroke="#222" stroke-width="0.6" stroke-dasharray="2.5 1"/>
<line x1="330.6" y1="333.4" x2="325.4" y2="368" stroke="#222" stroke-width="0.6" stroke-dasharray="2.5 1"/>
<line x1="332.1" y1="333.4" x2="340.0" y2="368" stroke="#222" stroke-width="0.6" stroke-dasharray="2.5 1"/>
<ellipse cx="248.0" cy="277.1" rx="19.8" ry="12.3" fill="#fff" stroke="#111" stroke-width="1"/>
<text x="248.0" y="280.2" font-size="8.63" text-anchor="middle" style="font-family:'Liberation Serif',serif;font-weight:bold" >NOEL</text>
<ellipse cx="289.6" cy="277.1" rx="19.8" ry="12.3" fill="#fff" stroke="#111" stroke-width="1"/>
<text x="289.6" y="280.2" font-size="8.63" text-anchor="middle" style="font-family:'Liberation Serif',serif;font-weight:bold" >HOTEL</text>
<ellipse cx="330.8" cy="277.1" rx="19.8" ry="12.3" fill="#fff" stroke="#111" stroke-width="1"/>
<text x="330.8" y="280.2" font-size="8.63" text-anchor="middle" style="font-family:'Liberation Serif',serif;font-weight:bold" >GREEN</text>
<ellipse cx="239.3" cy="324.6" rx="12" ry="8.8" fill="#fff" stroke="#111" stroke-width="0.9"/>
<text x="239.3" y="327.2" font-size="7.31" text-anchor="middle" style="font-family:'Liberation Serif',serif;font-weight:bold" >NO</text>
<ellipse cx="270.2" cy="324.6" rx="12" ry="8.8" fill="#fff" stroke="#111" stroke-width="0.9"/>
<text x="270.2" y="327.2" font-size="7.31" text-anchor="middle" style="font-family:'Liberation Serif',serif;font-weight:bold" >EL</text>
<ellipse cx="300.8" cy="324.6" rx="12" ry="8.8" fill="#fff" stroke="#111" stroke-width="0.9"/>
<text x="300.8" y="327.2" font-size="7.31" text-anchor="middle" style="font-family:'Liberation Serif',serif;font-weight:bold" >HO</text>
<ellipse cx="331.3" cy="324.6" rx="12" ry="8.8" fill="#fff" stroke="#111" stroke-width="0.9"/>
<text x="331.3" y="327.2" font-size="7.31" text-anchor="middle" style="font-family:'Liberation Serif',serif;font-weight:bold" >TEL</text>
<text x="350.0" y="327.0" font-size="7.10" text-anchor="middle" style="font-family:'Liberation Serif',serif;font-weight:bold" fill="#c98a3a">..</text>
<ellipse cx="238.0" cy="373.4" rx="5.7" ry="5.3" fill="#fff" stroke="#111" stroke-width="0.7"/>
<text x="238.0" y="376.2" font-size="7.51" text-anchor="middle" style="font-family:'Liberation Serif',serif;font-weight:bold" >N</text>
<ellipse cx="252.6" cy="373.4" rx="5.7" ry="5.3" fill="#fff" stroke="#111" stroke-width="0.7"/>
<text x="252.6" y="376.2" font-size="7.51" text-anchor="middle" style="font-family:'Liberation Serif',serif;font-weight:bold" >O</text>
<ellipse cx="267.1" cy="373.4" rx="5.7" ry="5.3" fill="#fff" stroke="#111" stroke-width="0.7"/>
<text x="267.1" y="376.2" font-size="7.51" text-anchor="middle" style="font-family:'Liberation Serif',serif;font-weight:bold" >E</text>
<ellipse cx="281.3" cy="373.4" rx="5.7" ry="5.3" fill="#fff" stroke="#111" stroke-width="0.7"/>
<text x="281.3" y="376.2" font-size="7.51" text-anchor="middle" style="font-family:'Liberation Serif',serif;font-weight:bold" >L</text>
<ellipse cx="296.0" cy="373.4" rx="5.7" ry="5.3" fill="#fff" stroke="#111" stroke-width="0.7"/>
<text x="296.0" y="376.2" font-size="7.51" text-anchor="middle" style="font-family:'Liberation Serif',serif;font-weight:bold" >H</text>
<ellipse cx="310.8" cy="373.4" rx="5.7" ry="5.3" fill="#fff" stroke="#111" stroke-width="0.7"/>
<text x="310.8" y="376.2" font-size="7.51" text-anchor="middle" style="font-family:'Liberation Serif',serif;font-weight:bold" >O</text>
<ellipse cx="325.4" cy="373.4" rx="5.7" ry="5.3" fill="#fff" stroke="#111" stroke-width="0.7"/>
<text x="325.4" y="376.2" font-size="7.51" text-anchor="middle" style="font-family:'Liberation Serif',serif;font-weight:bold" >T</text>
<ellipse cx="340.0" cy="373.4" rx="5.7" ry="5.3" fill="#fff" stroke="#111" stroke-width="0.7"/>
<text x="340.0" y="376.2" font-size="7.51" text-anchor="middle" style="font-family:'Liberation Serif',serif;font-weight:bold" >E</text>
<text x="352.0" y="375.0" font-size="6.09" text-anchor="middle" style="font-family:'Liberation Serif',serif;font-weight:bold" fill="#c98a3a">..</text>
<path d="M221,320 l3,-3 M221,320 l3,3" stroke="#aaa" stroke-width="0.5"/>
<text x="359.1" y="305.5" font-size="12.18" text-anchor="start" style="font-family:'Liberation Serif',serif;font-weight:bold" >Semantic Multi-Granularity</text>
<line x1="361" y1="309.5" x2="494" y2="309.5" stroke="#000" stroke-width="1.1" marker-end="url(#ahs)"/>
<polygon points="528.0,344.3 650.9,344.3 625.3,383.5 502.5,383.5" fill="#fff" stroke="#8a8a8a" stroke-width="0.9"/>
<ellipse cx="538.9" cy="358.2" rx="12.3" ry="7.5" stroke="#c4c4e4" stroke-width="0.6" stroke-dasharray="2 1.3" fill="none"/>
<ellipse cx="529.8" cy="374.6" rx="10.5" ry="7.0" stroke="#c4c4e4" stroke-width="0.6" stroke-dasharray="2 1.3" fill="none"/>
<ellipse cx="557.3" cy="370.5" rx="9.0" ry="9.0" stroke="#c4c4e4" stroke-width="0.6" stroke-dasharray="2 1.3" fill="none"/>
<ellipse cx="595.6" cy="354.8" rx="10.0" ry="6.5" stroke="#c4c4e4" stroke-width="0.6" stroke-dasharray="2 1.3" fill="none"/>
<ellipse cx="623.5" cy="360.9" rx="13.0" ry="8.0" stroke="#c4c4e4" stroke-width="0.6" stroke-dasharray="2 1.3" fill="none"/>
<ellipse cx="594.9" cy="369.8" rx="15.5" ry="9.5" stroke="#c4c4e4" stroke-width="0.6" stroke-dasharray="2 1.3" fill="none"/>
<line x1="560" y1="366" x2="591" y2="355" stroke="#e0b0d8" stroke-width="0.6" stroke-dasharray="2 1.3"/>
<line x1="542.3" y1="355.2" x2="547.6" y2="358.2" stroke="#d8b0dc" stroke-width="0.6"/>
<line x1="542.3" y1="355.2" x2="533.4" y2="363.5" stroke="#d8b0dc" stroke-width="0.6"/>
<line x1="525.0" y1="374.8" x2="536.3" y2="375.0" stroke="#d8b0dc" stroke-width="0.6"/>
<line x1="558.3" y1="367.1" x2="554.6" y2="374.2" stroke="#d8b0dc" stroke-width="0.6"/>
<line x1="591.0" y1="355.0" x2="600.0" y2="352.9" stroke="#d8b0dc" stroke-width="0.6"/>
<line x1="613.8" y1="361.6" x2="627.4" y2="361.6" stroke="#d8b0dc" stroke-width="0.6"/>
<line x1="588.7" y1="365.7" x2="597.0" y2="368.9" stroke="#d8b0dc" stroke-width="0.6"/>
<line x1="586.0" y1="371.9" x2="597.0" y2="368.9" stroke="#d8b0dc" stroke-width="0.6"/>
<line x1="597.0" y1="368.9" x2="603.5" y2="373.5" stroke="#d8b0dc" stroke-width="0.6"/>
<circle cx="542.3" cy="355.2" r="2.6" fill="#d4aede"/>
<circle cx="547.6" cy="358.2" r="2.6" fill="#d4aede"/>
<circle cx="533.4" cy="363.5" r="2.6" fill="#d4aede"/>
<circle cx="525.0" cy="374.8" r="2.6" fill="#d4aede"/>
<circle cx="536.3" cy="375.0" r="2.6" fill="#d4aede"/>
<circle cx="558.3" cy="367.1" r="2.6" fill="#d4aede"/>
<circle cx="554.6" cy="374.2" r="2.6" fill="#d4aede"/>
<circle cx="591.0" cy="355.0" r="2.6" fill="#d4aede"/>
<circle cx="600.0" cy="352.9" r="2.6" fill="#d4aede"/>
<circle cx="623.4" cy="355.1" r="2.6" fill="#d4aede"/>
<circle cx="613.8" cy="361.6" r="2.6" fill="#d4aede"/>
<circle cx="627.4" cy="361.6" r="2.6" fill="#d4aede"/>
<circle cx="588.7" cy="365.7" r="2.6" fill="#d4aede"/>
<circle cx="597.0" cy="368.9" r="2.6" fill="#d4aede"/>
<circle cx="586.0" cy="371.9" r="2.6" fill="#d4aede"/>
<circle cx="603.5" cy="373.5" r="2.6" fill="#d4aede"/>
<polygon points="528.5,301.7 650.9,301.7 625.3,341.1 503.0,341.1" fill="#fff" stroke="#8a8a8a" stroke-width="0.9"/>
<line x1="531.7" y1="326.0" x2="530.0" y2="368.0" stroke="#b4b4dc" stroke-width="0.7" stroke-dasharray="4 2" fill="none"/>
<line x1="549.6" y1="318.0" x2="541.0" y2="350.0" stroke="#b4b4dc" stroke-width="0.7" stroke-dasharray="4 2" fill="none"/>
<line x1="562.0" y1="331.0" x2="557.0" y2="362.0" stroke="#b4b4dc" stroke-width="0.7" stroke-dasharray="4 2" fill="none"/>
<line x1="603.0" y1="320.0" x2="598.0" y2="349.0" stroke="#b4b4dc" stroke-width="0.7" stroke-dasharray="4 2" fill="none"/>
<line x1="593.0" y1="332.0" x2="593.0" y2="361.0" stroke="#b4b4dc" stroke-width="0.7" stroke-dasharray="4 2" fill="none"/>
<line x1="620.3" y1="332.0" x2="623.0" y2="353.0" stroke="#b4b4dc" stroke-width="0.7" stroke-dasharray="4 2" fill="none"/>
<line x1="540.0" y1="330.0" x2="536.0" y2="352.0" stroke="#b4b4dc" stroke-width="0.7" stroke-dasharray="4 2" fill="none"/>
<line x1="613.0" y1="330.0" x2="613.0" y2="354.0" stroke="#b4b4dc" stroke-width="0.7" stroke-dasharray="4 2" fill="none"/>
<ellipse cx="546.6" cy="321.1" rx="23.6" ry="17.4" fill="none" stroke="#f2aea6" stroke-width="0.8"/>
<ellipse cx="605.4" cy="322.3" rx="24.8" ry="17" fill="none" stroke="#f2aea6" stroke-width="0.8"/>
<line x1="531.7" y1="320.6" x2="549.6" y2="311.9" stroke="#c8c6e8" stroke-width="0.6"/>
<line x1="549.6" y1="311.9" x2="562.0" y2="325.5" stroke="#c8c6e8" stroke-width="0.6"/>
<line x1="603.0" y1="314.4" x2="593.0" y2="326.8" stroke="#c8c6e8" stroke-width="0.6"/>
<line x1="603.0" y1="314.4" x2="620.3" y2="326.8" stroke="#c8c6e8" stroke-width="0.6"/>
<circle cx="531.7" cy="320.6" r="5.6" fill="#c3c1e5"/>
<circle cx="549.6" cy="311.9" r="5.6" fill="#c3c1e5"/>
<circle cx="562.0" cy="325.5" r="5.6" fill="#c3c1e5"/>
<circle cx="603.0" cy="314.4" r="5.6" fill="#c3c1e5"/>
<circle cx="593.0" cy="326.8" r="5.6" fill="#c3c1e5"/>
<circle cx="620.3" cy="326.8" r="5.6" fill="#c3c1e5"/>
<polygon points="527.4,249.3 646.9,249.3 623.7,287.3 503.3,287.3" fill="#fff" stroke="#8a8a8a" stroke-width="0.9"/>
<line x1="538.0" y1="276.0" x2="523.0" y2="318.0" stroke="#f2b4ac" stroke-width="0.7" stroke-dasharray="4 2" fill="none"/>
<line x1="565.0" y1="276.0" x2="570.0" y2="318.0" stroke="#f2b4ac" stroke-width="0.7" stroke-dasharray="4 2" fill="none"/>
<line x1="590.0" y1="276.0" x2="583.0" y2="320.0" stroke="#f2b4ac" stroke-width="0.7" stroke-dasharray="4 2" fill="none"/>
<line x1="622.0" y1="276.0" x2="630.0" y2="320.0" stroke="#f2b4ac" stroke-width="0.7" stroke-dasharray="4 2" fill="none"/>
<ellipse cx="551.6" cy="266.4" rx="17.5" ry="13.3" fill="#f5c7c1"/>
<ellipse cx="605.8" cy="267.8" rx="17" ry="13" fill="#f5c7c1"/>
<g fill="#4c84c5" stroke="#4c84c5" stroke-width="10">
<use href="#wm" transform="translate(64.8,105.9) rotate(-7.2) scale(0.0231,0.0238)"/>
<use href="#wm" transform="translate(79.6,220.4) rotate(-7.2) scale(0.0231,0.0238)"/>
<use href="#wm" transform="translate(94.5,334.9) rotate(-7.2) scale(0.0231,0.0238)"/>
<use href="#wm" transform="translate(309.4,75.4) rotate(-7.2) scale(0.0231,0.0238)"/>
<use href="#wm" transform="translate(324.2,189.9) rotate(-7.2) scale(0.0231,0.0238)"/>
<use href="#wm" transform="translate(339.1,304.4) rotate(-7.2) scale(0.0231,0.0238)"/>
<use href="#wm" transform="translate(353.9,418.9) rotate(-7.2) scale(0.0231,0.0238)"/>
<use href="#wm" transform="translate(554.0,44.8) rotate(-7.2) scale(0.0231,0.0238)"/>
<use href="#wm" transform="translate(568.9,159.3) rotate(-7.2) scale(0.0231,0.0238)"/>
<use href="#wm" transform="translate(583.7,273.8) rotate(-7.2) scale(0.0231,0.0238)"/>
<use href="#wm" transform="translate(598.5,388.3) rotate(-7.2) scale(0.0231,0.0238)"/>
<use href="#wm" transform="translate(798.6,14.2) rotate(-7.2) scale(0.0231,0.0238)"/>
<use href="#wm" transform="translate(813.4,128.8) rotate(-7.2) scale(0.0231,0.0238)"/>
<use href="#wm" transform="translate(828.3,243.2) rotate(-7.2) scale(0.0231,0.0238)"/>
<use href="#wm" transform="translate(843.1,357.8) rotate(-7.2) scale(0.0231,0.0238)"/>
<use href="#wm" transform="translate(1043.2,-16.3) rotate(-7.2) scale(0.0231,0.0238)"/>
<use href="#wm" transform="translate(1058.0,98.2) rotate(-7.2) scale(0.0231,0.0238)"/>
<use href="#wm" transform="translate(1072.9,212.7) rotate(-7.2) scale(0.0231,0.0238)"/>
<use href="#wm" transform="translate(1087.8,327.2) rotate(-7.2) scale(0.0231,0.0238)"/>
<use href="#wm" transform="translate(179.6,149.7) rotate(-7.2) scale(0.0231,0.0238)"/>
<use href="#wm" transform="translate(194.4,264.2) rotate(-7.2) scale(0.0231,0.0238)"/>
<use href="#wm" transform="translate(209.3,378.7) rotate(-7.2) scale(0.0231,0.0238)"/>
<use href="#wm" transform="translate(424.2,119.1) rotate(-7.2) scale(0.0231,0.0238)"/>
<use href="#wm" transform="translate(439.1,233.6) rotate(-7.2) scale(0.0231,0.0238)"/>
<use href="#wm" transform="translate(453.9,348.1) rotate(-7.2) scale(0.0231,0.0238)"/>
<use href="#wm" transform="translate(668.8,88.6) rotate(-7.2) scale(0.0231,0.0238)"/>
<use href="#wm" transform="translate(683.6,203.1) rotate(-7.2) scale(0.0231,0.0238)"/>
<use href="#wm" transform="translate(698.5,317.6) rotate(-7.2) scale(0.0231,0.0238)"/>
<use href="#wm" transform="translate(913.4,58.0) rotate(-7.2) scale(0.0231,0.0238)"/>
<use href="#wm" transform="translate(928.2,172.5) rotate(-7.2) scale(0.0231,0.0238)"/>
<use href="#wm" transform="translate(943.1,287.0) rotate(-7.2) scale(0.0231,0.0238)"/>
<use href="#wm" transform="translate(1158.0,27.5) rotate(-7.2) scale(0.0231,0.0238)"/>
<use href="#wm" transform="translate(1172.8,142.0) rotate(-7.2) scale(0.0231,0.0238)"/>
<use href="#wm" transform="translate(1187.7,256.5) rotate(-7.2) scale(0.0231,0.0238)"/>
</g>
</svg>
</body></html>
